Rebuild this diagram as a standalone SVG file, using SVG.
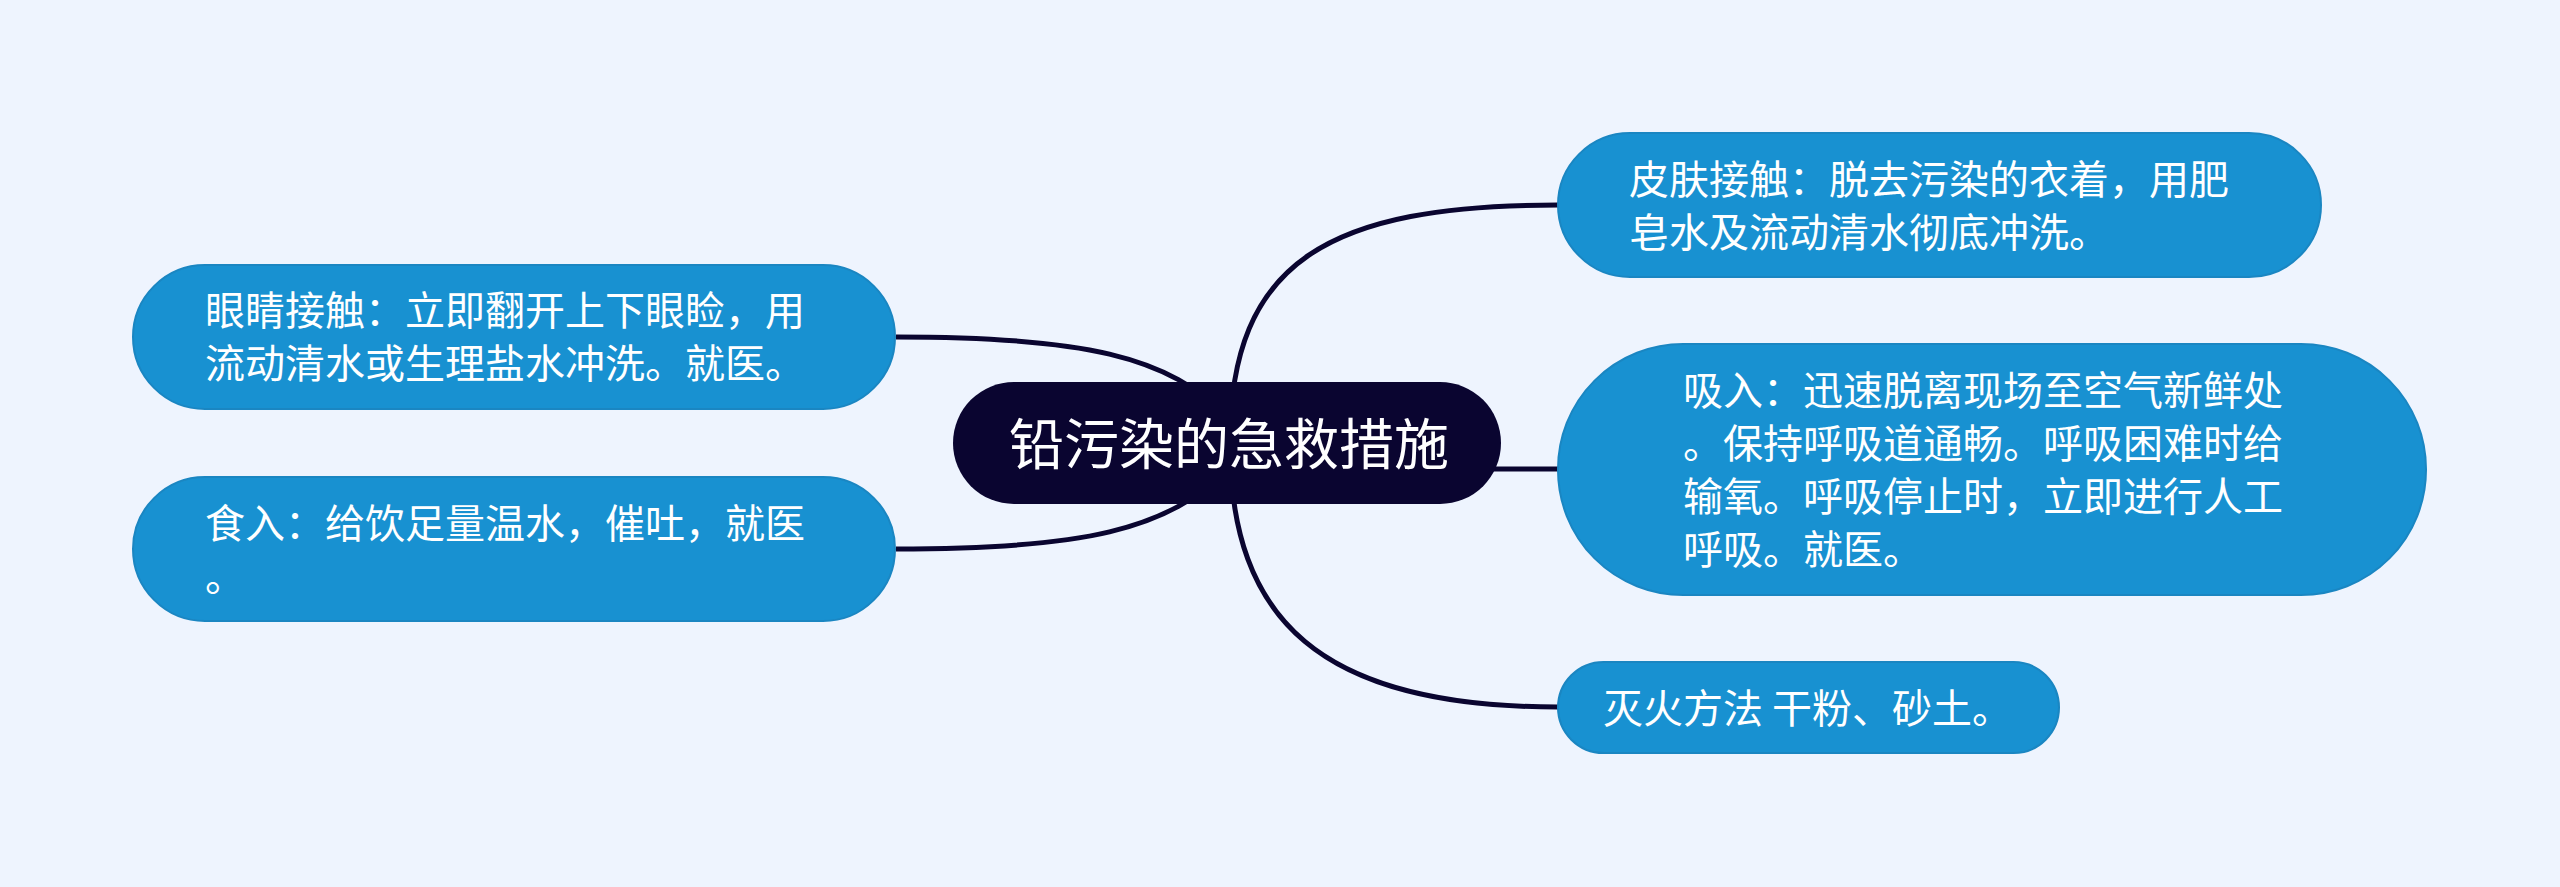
<svg xmlns="http://www.w3.org/2000/svg" width="2560" height="887" viewBox="0 0 2560 887">
<style>
.bg{fill:#eef4fe}
.conn{fill:none;stroke:#0a0530;stroke-width:5}
.child{fill:#1891d1;stroke:#1a86c2;stroke-width:2}
.root{fill:#0a0530}
.t{font-family:"Noto Sans CJK SC","Noto Sans",sans-serif;fill:#ffffff;font-size:40px}
.rt{font-family:"Noto Sans CJK SC","Noto Sans",sans-serif;fill:#ffffff;font-size:55px}
</style>
<rect class="bg" x="0" y="0" width="2560" height="887"/>
<g id="connectors">
<path class="conn" d="M 896 337 C 1080 337, 1170 355, 1230 420"/>
<path class="conn" d="M 896 549 C 1080 549, 1170 531, 1230 466"/>
<path class="conn" d="M 1230 443 C 1230 260, 1330 205, 1558 205"/>
<path class="conn" d="M 1480 469 L 1560 469"/>
<path class="conn" d="M 1230 443 C 1230 620, 1320 707, 1558 707"/>
</g>
<g id="root">
<rect class="root" x="953" y="382" width="548" height="122" rx="61"/>
<text class="rt" x="1229" y="464" text-anchor="middle">铅污染的急救措施</text>
</g>
<g id="node-skin">
<rect class="child" x="1558" y="133" width="763" height="144" rx="72"/>
<text class="t" x="1629" y="194">皮肤接触：脱去污染的衣着，用肥</text>
<text class="t" x="1629" y="247">皂水及流动清水彻底冲洗。</text>
</g>
<g id="node-inhale">
<rect class="child" x="1558" y="344" width="868" height="251" rx="125"/>
<text class="t" x="1683" y="405">吸入：迅速脱离现场至空气新鲜处</text>
<text class="t" x="1683" y="458">。保持呼吸道通畅。呼吸困难时给</text>
<text class="t" x="1683" y="511">输氧。呼吸停止时，立即进行人工</text>
<text class="t" x="1683" y="564">呼吸。就医。</text>
</g>
<g id="node-fire">
<rect class="child" x="1558" y="662" width="501" height="91" rx="45.5"/>
<text class="t" x="1603" y="723">灭火方法 干粉、砂土。</text>
</g>
<g id="node-eye">
<rect class="child" x="133" y="265" width="762" height="144" rx="72"/>
<text class="t" x="205" y="325">眼睛接触：立即翻开上下眼睑，用</text>
<text class="t" x="205" y="378">流动清水或生理盐水冲洗。就医。</text>
</g>
<g id="node-ingest">
<rect class="child" x="133" y="477" width="762" height="144" rx="72"/>
<text class="t" x="205" y="538">食入：给饮足量温水，催吐，就医</text>
<text class="t" x="205" y="591">。</text>
</g>
</svg>
